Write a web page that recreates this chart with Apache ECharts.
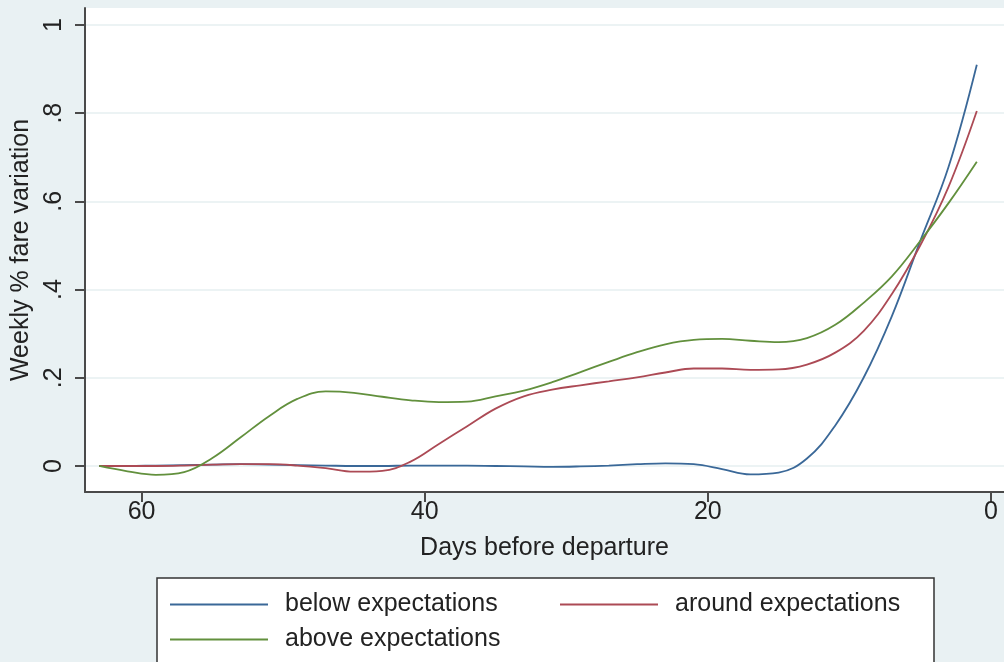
<!DOCTYPE html>
<html>
<head>
<meta charset="utf-8">
<title>Weekly % fare variation</title>
<script src="https://cdn.jsdelivr.net/npm/echarts@6/dist/echarts.min.js"></script>
<style>
    html, body { margin: 0; padding: 0; background: #e9f1f3; }
    #echart1 { width: 1004px; height: 662px; }
</style>
</head>
<body>
<div id="echart1"></div>
<script>
/*====================数据====================*/
var days = [63, 61, 59, 57, 55, 53, 51, 49, 47, 45, 43, 41, 39, 37, 35, 33, 31, 29, 27, 25, 23, 21, 19, 17, 15, 13, 11, 9, 7, 5, 3, 1];
var below = [0, 0, 0.001, 0.002, 0.003, 0.004, 0.003, 0.002, 0.001, 0, 0, 0.001, 0.001, 0.001, 0, -0.001, -0.002, -0.001, 0.001, 0.004, 0.006, 0.004, -0.007, -0.019, -0.015, 0.017, 0.092, 0.2, 0.34, 0.51, 0.678, 0.91];
var around = [0, 0, 0, 0.001, 0.003, 0.004, 0.004, 0.001, -0.005, -0.013, -0.011, 0.01, 0.05, 0.09, 0.13, 0.158, 0.173, 0.183, 0.192, 0.201, 0.212, 0.221, 0.221, 0.218, 0.219, 0.23, 0.257, 0.306, 0.39, 0.5, 0.633, 0.805];
var above = [0, -0.012, -0.02, -0.014, 0.018, 0.065, 0.113, 0.152, 0.169, 0.166, 0.157, 0.149, 0.145, 0.146, 0.158, 0.171, 0.19, 0.213, 0.236, 0.258, 0.276, 0.286, 0.288, 0.284, 0.281, 0.29, 0.32, 0.37, 0.43, 0.51, 0.596, 0.69];
var seriesNames = ['below expectations', 'around expectations', 'above expectations'];
var xTicks = [0, 20, 40, 60];
var yTicks = [0, 0.2, 0.4, 0.6, 0.8, 1];
var yTickLabels = ['0', '.2', '.4', '.6', '.8', '1'];

var lineColors = ['#3a6898', '#ac4a55', '#62903d'];
var font = "'Liberation Sans', Arial, sans-serif";

// 把天数和数值拼成 [x, y]
function toPairs(vals) {
    var out = [];
    for (var i = 0; i < days.length; i++) {
        out.push([days[i], vals[i]]);
    }
    return out;
}

function legendItem(name, left, top) {
    return {
        data: [name],
        left: left,
        top: top,
        padding: 0,
        icon: 'rect',
        itemWidth: 98,
        itemHeight: 2,
        selectedMode: false,
        textStyle: {
            fontFamily: font,
            fontSize: 25,
            color: '#222',
            padding: [0, 0, 0, 12]
        }
    };
}

function lineSeries(idx, vals) {
    return {
        name: seriesNames[idx],
        type: 'line',
        smooth: 0.4,
        showSymbol: false,
        lineStyle: { width: 1.8, color: lineColors[idx] },
        itemStyle: { color: lineColors[idx] },
        data: toPairs(vals)
    };
}

/*====================echart====================*/
var myChart1 = echarts.init(document.getElementById('echart1'));
var option1 = {
    backgroundColor: '#e9f1f3',
    animation: false,
    grid: {
        left: 85,
        right: 0,
        top: 8,
        bottom: 170,
        show: true,
        backgroundColor: '#fff',
        borderWidth: 0
    },
    graphic: [{
        type: 'rect',
        shape: { x: 157, y: 578, width: 777, height: 100 },
        style: { fill: '#fff', stroke: '#333', lineWidth: 1.5 },
        z: 0
    }],
    legend: [
        legendItem(seriesNames[0], 170, 592),
        legendItem(seriesNames[1], 560, 592),
        legendItem(seriesNames[2], 170, 627)
    ],
    xAxis: {
        type: 'value',
        inverse: true,
        min: -0.92,
        max: 64,
        name: 'Days before departure',
        nameLocation: 'middle',
        nameGap: 44,
        nameTextStyle: { fontFamily: font, fontSize: 25, color: '#222' },
        axisLine: { onZero: false, lineStyle: { color: '#4a4a4a', width: 2 } },
        axisTick: { customValues: xTicks, inside: false, length: 10, lineStyle: { color: '#4a4a4a', width: 2 } },
        axisLabel: {
            customValues: xTicks,
            margin: 8,
            fontFamily: font,
            fontSize: 25,
            color: '#222'
        },
        splitLine: { show: false }
    },
    yAxis: {
        type: 'value',
        min: -0.059,
        max: 1.0385,
        name: 'Weekly % fare variation',
        nameLocation: 'middle',
        nameGap: 43,
        nameTextStyle: { fontFamily: font, fontSize: 25, color: '#222' },
        axisLine: { show: true, onZero: false, lineStyle: { color: '#4a4a4a', width: 2 } },
        axisTick: { show: true, customValues: yTicks, inside: false, length: 10, lineStyle: { color: '#4a4a4a', width: 2 } },
        axisLabel: {
            customValues: yTicks,
            rotate: 90,
            margin: 18,
            fontFamily: font,
            fontSize: 25,
            color: '#222',
            formatter: function (v) {
                for (var i = 0; i < yTicks.length; i++) {
                    if (Math.abs(yTicks[i] - v) < 1e-6) return yTickLabels[i];
                }
                return '';
            }
        },
        splitLine: { show: true, lineStyle: { color: '#e6eff1', width: 1.5 } }
    },
    series: [
        lineSeries(0, below),
        lineSeries(1, around),
        lineSeries(2, above)
    ]
};

// ====================调用echarts========================//
myChart1.setOption(option1);
</script>
</body>
</html>
